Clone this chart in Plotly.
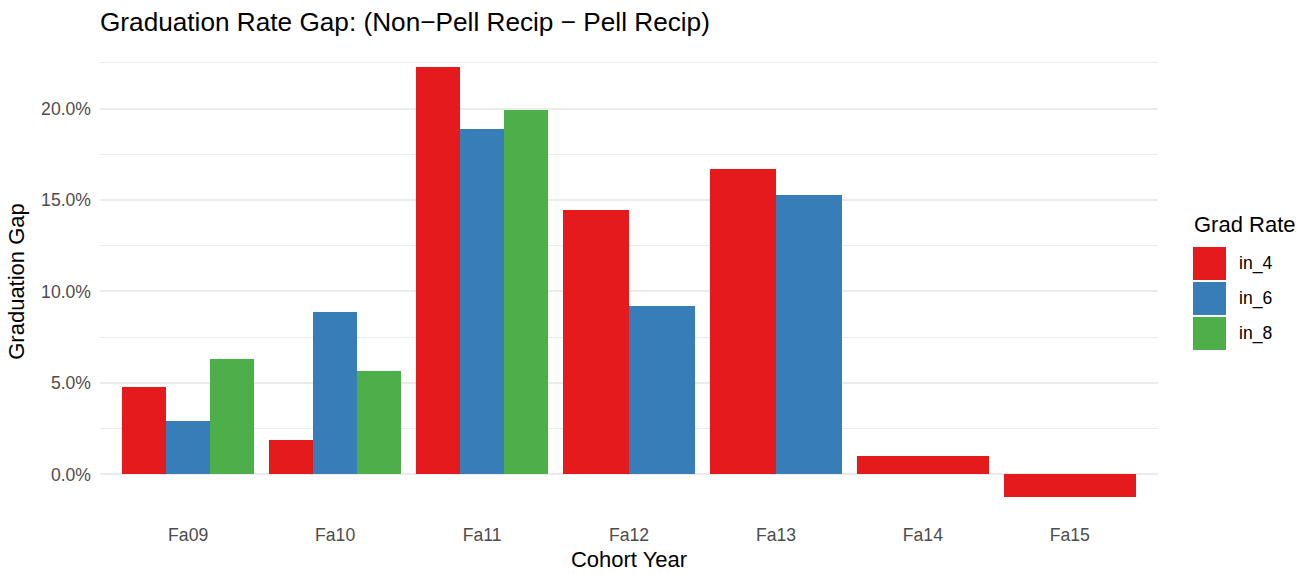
import plotly.graph_objects as go

# ---- data ----
categories = ["Fa09", "Fa10", "Fa11", "Fa12", "Fa13", "Fa14", "Fa15"]
series_names = ["in_4", "in_6", "in_8"]
in_4 = [0.0479, 0.0189, 0.2230, 0.1448, 0.1667, 0.0101, -0.0121]
in_6 = [0.0293, 0.0889, 0.1891, 0.0922, 0.1530, None, None]
in_8 = [0.0632, 0.0566, 0.1990, None, None, None, None]
colors = ["#E41A1C", "#377EB8", "#4DAF4A"]

series = [in_4, in_6, in_8]
FONT = "Liberation Sans, Arial, sans-serif"

# figure geometry (pixels)
W, H = 1306, 574
ML, MR, MT, MB = 100, 148, 45, 56
PW, PH = W - ML - MR, H - MT - MB

def px_x(px):
    return (px - ML) / PW

def px_y(py):
    return (H - MB - py) / PH

# dodge: bars share 0.9 of each category slot among the series present
DODGE = 0.9
xs = {n: [] for n in series_names}
ys = {n: [] for n in series_names}
ws = {n: [] for n in series_names}
for i, cat in enumerate(categories):
    present = [j for j, s in enumerate(series) if s[i] is not None]
    w = DODGE / len(present)
    for k, j in enumerate(present):
        xs[series_names[j]].append(i + 1 - DODGE / 2 + w * (k + 0.5))
        ys[series_names[j]].append(series[j][i])
        ws[series_names[j]].append(w)

fig = go.Figure()
for j, name in enumerate(series_names):
    fig.add_trace(go.Bar(
        x=xs[name], y=ys[name], width=ws[name], name=name,
        marker=dict(color=colors[j], line=dict(width=0)),
        showlegend=False,
    ))

all_vals = [v for s in series for v in s if v is not None] + [0]
lo, hi = min(all_vals), max(all_vals)
pad = 0.05 * (hi - lo)

fig.update_layout(
    width=W, height=H,
    margin=dict(l=ML, r=MR, t=MT, b=MB, autoexpand=False),
    paper_bgcolor="white", plot_bgcolor="white",
    barmode="overlay", bargap=0,
    font=dict(family=FONT, color="black"),
    title=dict(
        text="Graduation Rate Gap: (Non\u2212Pell Recip \u2212 Pell Recip)",
        x=ML / W, xref="container", xanchor="left",
        y=1 - 22 / H, yref="container", yanchor="middle",
        font=dict(size=26.2, color="black", family=FONT),
    ),
    xaxis=dict(
        range=[0.4, len(categories) + 0.6],
        tickvals=list(range(1, len(categories) + 1)),
        ticktext=categories,
        showgrid=False, zeroline=False, showline=False,
        ticks="", ticklabelstandoff=4,
        tickfont=dict(size=17.6, color="#4D4D4D", family=FONT),
        title=dict(text="Cohort Year", font=dict(size=22, color="black", family=FONT), standoff=8),
    ),
    yaxis=dict(
        range=[lo - pad, hi + pad],
        tickvals=[0, 0.05, 0.10, 0.15, 0.20],
        tickformat=".1%",
        showgrid=True, gridcolor="#EBEBEB", gridwidth=1.5,
        minor=dict(dtick=0.025, tick0=0, showgrid=True, gridcolor="#EBEBEB", gridwidth=0.8),
        zeroline=False, showline=False, ticks="", ticklabelstandoff=8,
        tickfont=dict(size=17.6, color="#4D4D4D", family=FONT),
        title=dict(text="Graduation Gap", font=dict(size=22, color="black", family=FONT), standoff=10),
    ),
)

# ---- custom legend (ggplot style large keys) ----
fig.add_annotation(
    x=px_x(1192), y=px_y(224.5), xref="paper", yref="paper",
    text="Grad Rate", showarrow=False, xanchor="left", yanchor="middle",
    font=dict(size=22, color="black", family=FONT),
)
key_top = 247
for j, name in enumerate(series_names):
    t = key_top + j * 35
    fig.add_shape(
        type="rect", xref="paper", yref="paper",
        x0=px_x(1193), x1=px_x(1226), y0=px_y(t + 33), y1=px_y(t),
        fillcolor=colors[j], line=dict(width=0),
    )
    fig.add_annotation(
        x=px_x(1237), y=px_y(t + 16.5), xref="paper", yref="paper",
        text=name, showarrow=False, xanchor="left", yanchor="middle",
        font=dict(size=17.6, color="black", family=FONT),
    )

fig.write_html(
    "out.html",
    config={"displayModeBar": False},
    post_script="document.body.style.margin='0';document.documentElement.style.overflow='hidden';",
)
